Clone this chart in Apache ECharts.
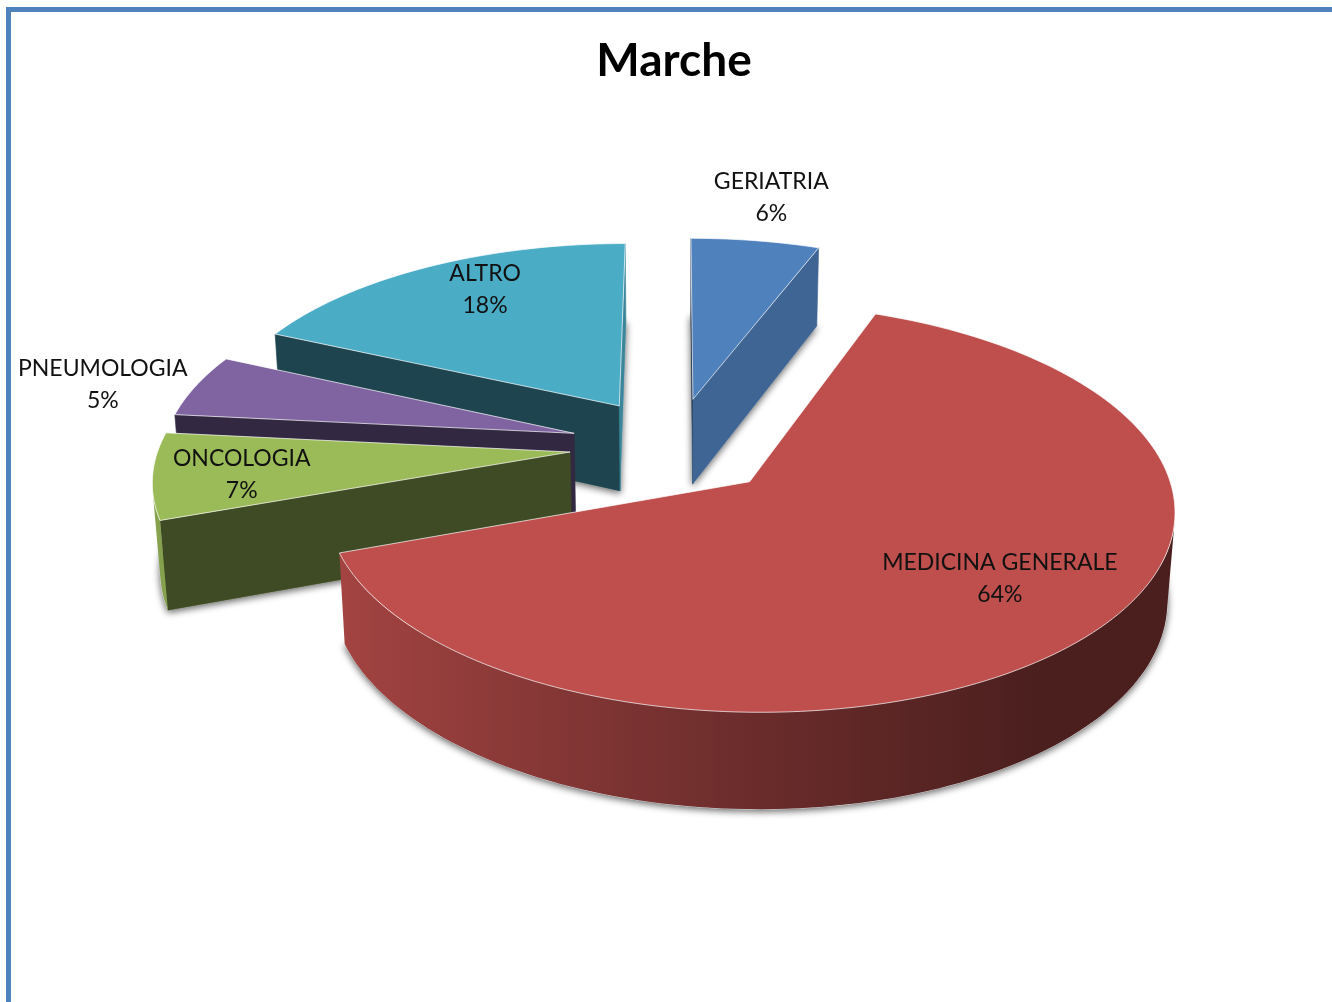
<!DOCTYPE html>
<html>
<head>
<meta charset="utf-8">
<style>html,body{margin:0;padding:0;background:#fff}#chart{width:1332px;height:1002px}</style>
<script src="https://cdn.jsdelivr.net/npm/echarts@6/dist/echarts.min.js"></script>
</head>
<body>
<div id="chart"></div>
<script>
// ---- data ----
const chartTitle = 'Marche';
const categories = ['GERIATRIA', 'MEDICINA GENERALE', 'ONCOLOGIA', 'PNEUMOLOGIA', 'ALTRO'];
const percents = [5.8, 63.7, 7.1, 5.2, 18.2];
const colors = ['#4F81BD', '#BE4F4D', '#9BBB59', '#8064A2', '#4BACC6'];

// ---- layout (label spot per slice: radius, angle on the tilted disc) ----
const labelSpots = [[1.313, 10.3], [0.713, 129.5], [0.789, 261.7], [1.232, 282.5], [0.789, 331.6]];
const view = {cx: 674.5, cy: 446, A: 411, B: 192, k: 0.125, H: 88, m: 0.015, explode: 0.255};

const rad = d => d * Math.PI / 180;
const dir = d => [Math.sin(rad(d)), -Math.cos(rad(d))];
function project(u, v, z) {
  const w = 1 - view.k * v + view.m * z;
  return [view.cx + view.A * u / w, view.cy + (view.B * v + view.H * z) / w];
}
function shade(hex, f) {
  const n = parseInt(hex.slice(1), 16);
  const c = [n >> 16, (n >> 8) & 255, n & 255].map(x => Math.round(x * f));
  return 'rgb(' + c.join(',') + ')';
}
function wallFactor(deg) {
  const s = Math.sin(rad(deg));
  if (s >= 0.6) return 0.39;
  if (s >= 0) return 0.55 - (0.16 * s / 0.6);
  return 0.55 - 0.33 * s;
}

// slices: angles accumulate from the values, nearest slices painted last
const total = percents.reduce((a, b) => a + b, 0);
let running = 0;
const slices = percents.map((p, i) => {
  const a0 = running / total * 360;
  running += p;
  const a1 = running / total * 360;
  const d = dir((a0 + a1) / 2);
  return {i, a0, a1, u: d[0] * view.explode, v: d[1] * view.explode};
}).sort((a, b) => a.v - b.v);

function renderItem(params, api) {
  const s = slices[params.dataIndex];
  const value = Math.round(api.value(0));
  const color = colors[s.i];
  const arcAngles = [];
  const steps = Math.max(2, Math.ceil((s.a1 - s.a0) / 1.5));
  for (let j = 0; j <= steps; j++) arcAngles.push(s.a0 + (s.a1 - s.a0) * j / steps);
  const rim = arcAngles.map(a => { const d = dir(a); return [s.u + d[0], s.v + d[1]]; });
  const perim = [[s.u, s.v]].concat(rim);
  const top = perim.map(p => project(p[0], p[1], 0));
  const bot = perim.map(p => project(p[0], p[1], 1));
  const children = [];
  // ground outline, carries the soft shadow
  children.push({type: 'polygon', silent: true, shape: {points: bot}, style: {
    fill: shade(color, 0.4), stroke: 'rgba(255,255,255,0.7)', lineWidth: 1,
    shadowBlur: 7, shadowColor: 'rgba(0,0,0,0.6)', shadowOffsetX: 0, shadowOffsetY: 2}});
  const quad = (i, j) => [top[i], top[j], bot[j], bot[i]];
  const area = q => {
    let t = 0;
    for (let n = 0; n < 4; n++) { const a = q[n], b = q[(n + 1) % 4]; t += a[0] * b[1] - b[0] * a[1]; }
    return t;
  };
  const addFace = (q, fill) => {
    if (area(q) < 0) children.push({type: 'polygon', silent: true, shape: {points: q},
      style: {fill: fill, stroke: fill, lineWidth: 0.6}});
  };
  addFace(quad(0, 1), shade(color, 0.4));
  addFace(quad(top.length - 1, 0), shade(color, 0.78));
  // outer wall: one polygon over the visible run, shaded along x
  const visible = [];
  for (let j = 1; j < top.length - 1; j++) if (area(quad(j, j + 1)) < 0) visible.push(j);
  if (visible.length) {
    const first = visible[0], last = visible[visible.length - 1] + 1;
    const upper = top.slice(first, last + 1), lower = bot.slice(first, last + 1).reverse();
    const pts = upper.concat(lower);
    const xs = pts.map(p => p[0]);
    const x0 = Math.min.apply(null, xs), x1 = Math.max.apply(null, xs);
    const stops = visible.map(j => ({
      offset: Math.min(1, Math.max(0, (top[j][0] - x0) / Math.max(1, x1 - x0))),
      color: shade(color, wallFactor((arcAngles[j - 1] + arcAngles[j]) / 2))
    })).sort((a, b) => a.offset - b.offset);
    children.push({type: 'polygon', silent: true, shape: {points: pts}, style: {
      fill: new echarts.graphic.LinearGradient(x0, 0, x1, 0, stops, true)}});
  }
  children.push({type: 'polygon', silent: true, shape: {points: top}, style: {
    fill: color, stroke: 'rgba(255,255,255,0.7)', lineWidth: 1}});
  const spot = labelSpots[s.i];
  const sd = dir(spot[1]);
  const lp = project(s.u + sd[0] * spot[0], s.v + sd[1] * spot[0], 0);
  children.push({type: 'text', silent: true, z2: 100, style: {
    x: lp[0], y: lp[1], text: categories[s.i] + '\n' + value + '%',
    fill: '#111', font: '23px Lato, Carlito, sans-serif', lineHeight: 32,
    align: 'center', verticalAlign: 'middle'}});
  return {type: 'group', children};
}

const chart = echarts.init(document.getElementById('chart'), null, {renderer: 'canvas'});
chart.setOption({
  animation: false,
  backgroundColor: '#ffffff',
  title: {text: chartTitle, left: 669, top: 33, textAlign: 'center',
    textStyle: {fontFamily: 'Lato, sans-serif', fontWeight: 'bold', fontSize: 46, color: '#000'}},
  graphic: [
    {type: 'rect', silent: true, shape: {x: 6, y: 7, width: 1326, height: 5}, style: {fill: '#4F81BD'}},
    {type: 'rect', silent: true, shape: {x: 6, y: 7, width: 5, height: 995}, style: {fill: '#4F81BD'}}
  ],
  series: [{
    type: 'custom',
    coordinateSystem: 'none',
    renderItem,
    data: slices.map(s => ({name: categories[s.i], value: [percents[s.i]]}))
  }]
});
</script>
</body>
</html>
